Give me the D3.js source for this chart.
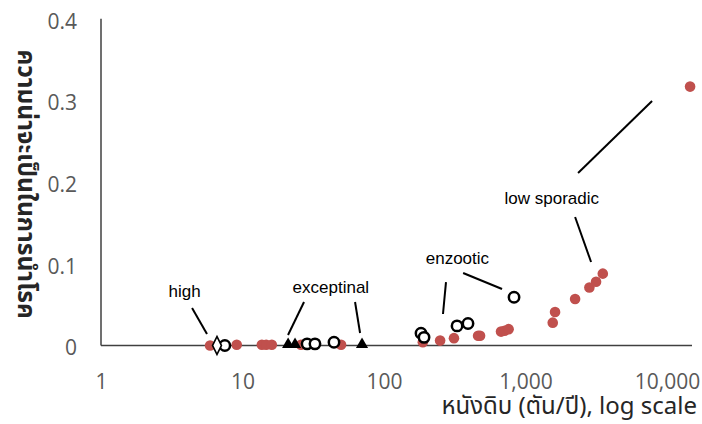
<!DOCTYPE html>
<html>
<head>
<meta charset="utf-8">
<script src="https://cdn.jsdelivr.net/npm/d3@7"></script>
<style>
  body { margin: 0; background: #fff; }
  svg { display: block; }
</style>
</head>
<body>
<svg id="chart" width="702" height="424"></svg>
<script>
// Axis ticks
const xTicks = [1, 10, 100, 1000, 10000];
const yTicks = [0, 0.1, 0.2, 0.3, 0.4];

// Low sporadic (filled red dots)
const sporadicX = [5.9, 9.1, 13.7, 14.7, 16.1, 25.9, 49.7, 188, 249, 312, 462, 477, 671, 711, 759, 1556, 1616, 2239, 2825, 3148, 3514, 14540];
const sporadicY = [0, 0.001, 0.001, 0.001, 0.001, 0.001, 0.001, 0.004, 0.006, 0.009, 0.012, 0.012, 0.017, 0.018, 0.020, 0.028, 0.041, 0.057, 0.071, 0.078, 0.088, 0.317];

// Enzootic (open circles)
const enzooticX = [7.5, 28.6, 32.5, 44.3, 182.5, 191.7, 328, 392, 829];
const enzooticY = [0, 0.002, 0.002, 0.004, 0.015, 0.010, 0.024, 0.027, 0.059];

// Exceptional (filled triangles)
const exceptionalX = [21.0, 23.5, 69.9];
const exceptionalY = [0, 0, 0];

// High (open diamond)
const highX = [6.6];
const highY = [0];

// Group labels and their leader lines, in data units
const labelText = ["high", "exceptinal", "enzootic", "low sporadic"];
const labelX = [3.9, 42.1, 330, 1531];
const labelY = [0.0597, 0.0639, 0.0998, 0.1732];
const leaderX1 = [4.40, 27.2, 62.4, 274, 362, 7834, 2239];
const leaderY1 = [0.0459, 0.0533, 0.0533, 0.0777, 0.0888, 0.2994, 0.1573];
const leaderX2 = [5.61, 20.97, 67.7, 261, 682, 2350, 2904];
const leaderY2 = [0.0141, 0.0129, 0.0153, 0.0386, 0.0692, 0.2112, 0.1022];

const yTitle = "ความน่าจะเป็นในการนำโรค";
const xTitle = "หนังดิบ (ตัน/ปี), log scale";

const svg = d3.select("#chart");
const x = d3.scaleLog().domain([1, 15000]).range([101, 692]);
const y = d3.scaleLinear().domain([0, 0.4]).range([345.5, 18.8]);

const tickFont = "'Open Sans', 'Noto Sans', sans-serif";
const thaiFont = "'Noto Sans Thai', Tahoma, 'Noto Sans', sans-serif";
const grey = "#595959";

// Y axis
const yAxis = svg.append("g")
  .attr("transform", `translate(${x(1)},0)`)
  .call(d3.axisLeft(y).tickValues(yTicks).tickSize(0).tickPadding(24)
    .tickFormat(d => d === 0 ? "0" : d3.format(".1f")(d)));
yAxis.select(".domain").remove();
yAxis.selectAll("text")
  .attr("dy", "0.45em")
  .style("font-family", tickFont).style("font-size", "21px").attr("fill", grey);

// X axis
const xAxis = svg.append("g")
  .attr("transform", `translate(0,${y(0)})`)
  .call(d3.axisBottom(x).tickValues(xTicks).tickSize(0).tickPadding(29)
    .tickFormat(d3.format(",")));
xAxis.select(".domain").remove();
xAxis.selectAll("text")
  .style("font-family", tickFont).style("font-size", "21px").attr("fill", grey);

// Axis lines
svg.append("line")
  .attr("x1", x(1)).attr("x2", x(1)).attr("y1", y(0.4)).attr("y2", y(0))
  .attr("stroke", "#404040").attr("stroke-width", 1.5);
svg.append("line")
  .attr("x1", x(1)).attr("x2", x.range()[1]).attr("y1", y(0)).attr("y2", y(0))
  .attr("stroke", "#404040").attr("stroke-width", 1.5);

// Titles
svg.append("text")
  .attr("transform", `translate(18,${(y(0.4) + y(0)) / 2 + 2}) rotate(90)`)
  .attr("text-anchor", "middle")
  .style("font-family", thaiFont)
  .style("font-size", "24.5px").style("font-weight", "bold")
  .attr("fill", "#262626")
  .text(yTitle);

svg.append("text")
  .attr("x", 697).attr("y", 414)
  .attr("text-anchor", "end")
  .style("font-family", thaiFont)
  .style("font-size", "24px")
  .attr("fill", "#262626")
  .text(xTitle);

// Leader lines
const leaders = leaderX1.map((d, i) => ({x1: d, y1: leaderY1[i], x2: leaderX2[i], y2: leaderY2[i]}));
svg.append("g").selectAll("line").data(leaders).join("line")
  .attr("x1", d => x(d.x1)).attr("y1", d => y(d.y1))
  .attr("x2", d => x(d.x2)).attr("y2", d => y(d.y2))
  .attr("stroke", "#000").attr("stroke-width", 2);

// Group labels
const labels = labelText.map((t, i) => ({t, x: labelX[i], y: labelY[i]}));
svg.append("g").selectAll("text").data(labels).join("text")
  .attr("x", d => x(d.x)).attr("y", d => y(d.y))
  .attr("text-anchor", "middle")
  .style("font-family", "'Liberation Sans', Arial, sans-serif")
  .style("font-size", "17px")
  .attr("fill", "#000")
  .text(d => d.t);

// Points
const zip = (xs, ys) => xs.map((d, i) => ({x: d, y: ys[i]}));

svg.append("g").selectAll("circle").data(zip(sporadicX, sporadicY)).join("circle")
  .attr("cx", d => x(d.x)).attr("cy", d => y(d.y)).attr("r", 5.3)
  .attr("fill", "#c0504d");

svg.append("g").selectAll("circle").data(zip(enzooticX, enzooticY)).join("circle")
  .attr("cx", d => x(d.x)).attr("cy", d => y(d.y)).attr("r", 5.2)
  .attr("fill", "#fff").attr("stroke", "#000").attr("stroke-width", 2.5);

svg.append("g").selectAll("path").data(zip(exceptionalX, exceptionalY)).join("path")
  .attr("transform", d => `translate(${x(d.x)},${y(d.y) - 1})`)
  .attr("d", d3.symbol(d3.symbolTriangle, 64))
  .attr("fill", "#000");

svg.append("g").selectAll("path").data(zip(highX, highY)).join("path")
  .attr("transform", d => `translate(${x(d.x)},${y(d.y)}) scale(0.85,1)`)
  .attr("d", d3.symbol(d3.symbolDiamond, 95))
  .attr("fill", "#fff").attr("stroke", "#000").attr("stroke-width", 1.8);
</script>
</body>
</html>
